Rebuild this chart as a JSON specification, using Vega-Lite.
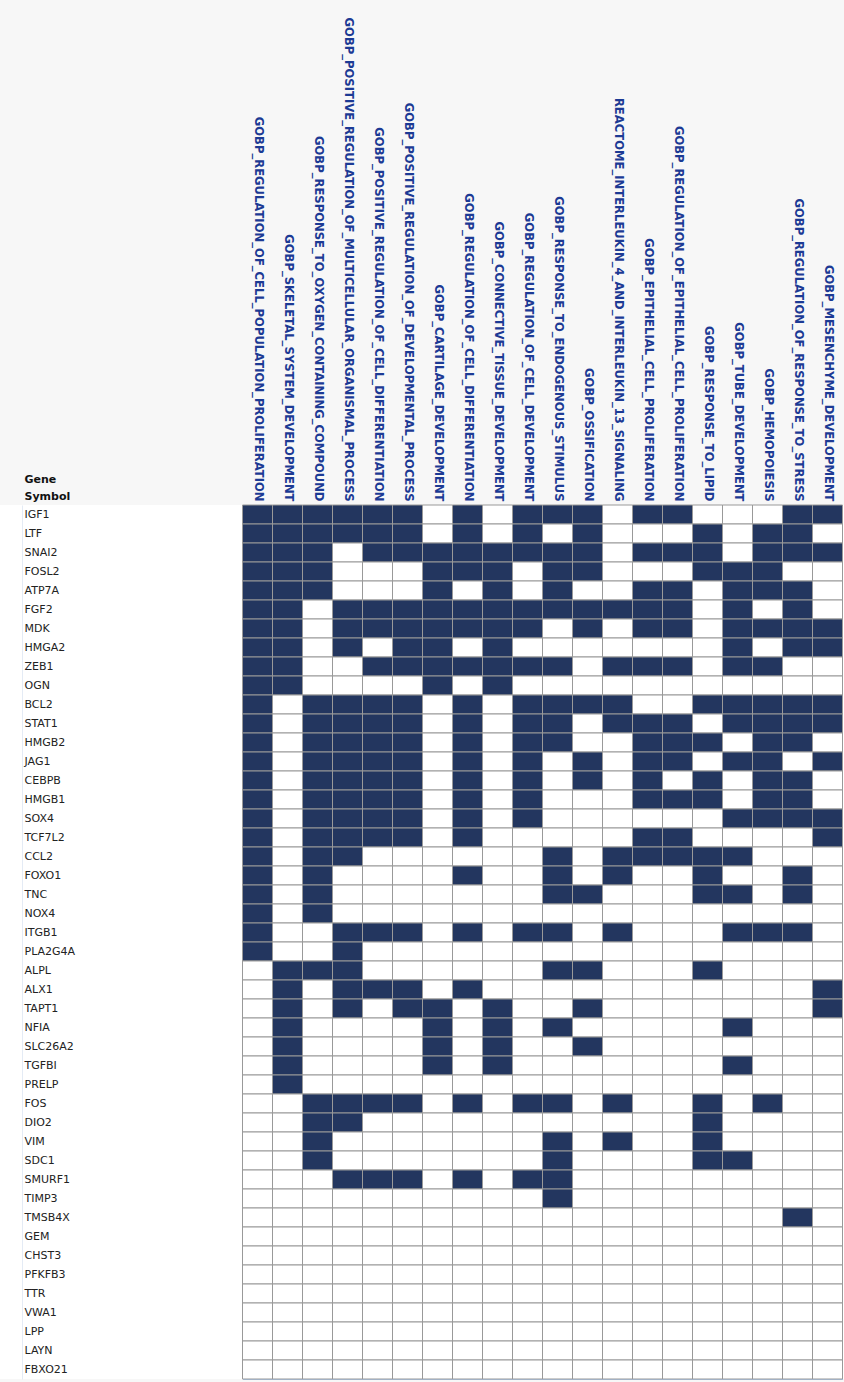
{
"$schema": "https://vega.github.io/schema/vega-lite/v6.json",
"width": 844,
"height": 874,
"autosize": "none",
"padding": {"left": 0, "top": 505, "right": 0, "bottom": 3},
"background": "#f7f7f7",
"view": {"fill": "white", "stroke": null},
"datasets": {
"sets": [
{"set":1,"name":"GOBP_REGULATION_OF_CELL_POPULATION_PROLIFERATION"},
{"set":2,"name":"GOBP_SKELETAL_SYSTEM_DEVELOPMENT"},
{"set":3,"name":"GOBP_RESPONSE_TO_OXYGEN_CONTAINING_COMPOUND"},
{"set":4,"name":"GOBP_POSITIVE_REGULATION_OF_MULTICELLULAR_ORGANISMAL_PROCESS"},
{"set":5,"name":"GOBP_POSITIVE_REGULATION_OF_CELL_DIFFERENTIATION"},
{"set":6,"name":"GOBP_POSITIVE_REGULATION_OF_DEVELOPMENTAL_PROCESS"},
{"set":7,"name":"GOBP_CARTILAGE_DEVELOPMENT"},
{"set":8,"name":"GOBP_REGULATION_OF_CELL_DIFFERENTIATION"},
{"set":9,"name":"GOBP_CONNECTIVE_TISSUE_DEVELOPMENT"},
{"set":10,"name":"GOBP_REGULATION_OF_CELL_DEVELOPMENT"},
{"set":11,"name":"GOBP_RESPONSE_TO_ENDOGENOUS_STIMULUS"},
{"set":12,"name":"GOBP_OSSIFICATION"},
{"set":13,"name":"REACTOME_INTERLEUKIN_4_AND_INTERLEUKIN_13_SIGNALING"},
{"set":14,"name":"GOBP_EPITHELIAL_CELL_PROLIFERATION"},
{"set":15,"name":"GOBP_REGULATION_OF_EPITHELIAL_CELL_PROLIFERATION"},
{"set":16,"name":"GOBP_RESPONSE_TO_LIPID"},
{"set":17,"name":"GOBP_TUBE_DEVELOPMENT"},
{"set":18,"name":"GOBP_HEMOPOIESIS"},
{"set":19,"name":"GOBP_REGULATION_OF_RESPONSE_TO_STRESS"},
{"set":20,"name":"GOBP_MESENCHYME_DEVELOPMENT"}
],
"cells": [
{"gene":"IGF1","set":1,"hit":1},{"gene":"IGF1","set":2,"hit":1},{"gene":"IGF1","set":3,"hit":1},{"gene":"IGF1","set":4,"hit":1},{"gene":"IGF1","set":5,"hit":1},{"gene":"IGF1","set":6,"hit":1},{"gene":"IGF1","set":7,"hit":0},{"gene":"IGF1","set":8,"hit":1},{"gene":"IGF1","set":9,"hit":0},{"gene":"IGF1","set":10,"hit":1},{"gene":"IGF1","set":11,"hit":1},{"gene":"IGF1","set":12,"hit":1},{"gene":"IGF1","set":13,"hit":0},{"gene":"IGF1","set":14,"hit":1},{"gene":"IGF1","set":15,"hit":1},{"gene":"IGF1","set":16,"hit":0},{"gene":"IGF1","set":17,"hit":0},{"gene":"IGF1","set":18,"hit":0},{"gene":"IGF1","set":19,"hit":1},{"gene":"IGF1","set":20,"hit":1},
{"gene":"LTF","set":1,"hit":1},{"gene":"LTF","set":2,"hit":1},{"gene":"LTF","set":3,"hit":1},{"gene":"LTF","set":4,"hit":1},{"gene":"LTF","set":5,"hit":1},{"gene":"LTF","set":6,"hit":1},{"gene":"LTF","set":7,"hit":0},{"gene":"LTF","set":8,"hit":1},{"gene":"LTF","set":9,"hit":0},{"gene":"LTF","set":10,"hit":1},{"gene":"LTF","set":11,"hit":0},{"gene":"LTF","set":12,"hit":1},{"gene":"LTF","set":13,"hit":0},{"gene":"LTF","set":14,"hit":0},{"gene":"LTF","set":15,"hit":0},{"gene":"LTF","set":16,"hit":1},{"gene":"LTF","set":17,"hit":0},{"gene":"LTF","set":18,"hit":1},{"gene":"LTF","set":19,"hit":1},{"gene":"LTF","set":20,"hit":0},
{"gene":"SNAI2","set":1,"hit":1},{"gene":"SNAI2","set":2,"hit":1},{"gene":"SNAI2","set":3,"hit":1},{"gene":"SNAI2","set":4,"hit":0},{"gene":"SNAI2","set":5,"hit":1},{"gene":"SNAI2","set":6,"hit":1},{"gene":"SNAI2","set":7,"hit":1},{"gene":"SNAI2","set":8,"hit":1},{"gene":"SNAI2","set":9,"hit":1},{"gene":"SNAI2","set":10,"hit":1},{"gene":"SNAI2","set":11,"hit":1},{"gene":"SNAI2","set":12,"hit":1},{"gene":"SNAI2","set":13,"hit":0},{"gene":"SNAI2","set":14,"hit":1},{"gene":"SNAI2","set":15,"hit":1},{"gene":"SNAI2","set":16,"hit":1},{"gene":"SNAI2","set":17,"hit":0},{"gene":"SNAI2","set":18,"hit":1},{"gene":"SNAI2","set":19,"hit":1},{"gene":"SNAI2","set":20,"hit":1},
{"gene":"FOSL2","set":1,"hit":1},{"gene":"FOSL2","set":2,"hit":1},{"gene":"FOSL2","set":3,"hit":1},{"gene":"FOSL2","set":4,"hit":0},{"gene":"FOSL2","set":5,"hit":0},{"gene":"FOSL2","set":6,"hit":0},{"gene":"FOSL2","set":7,"hit":1},{"gene":"FOSL2","set":8,"hit":1},{"gene":"FOSL2","set":9,"hit":1},{"gene":"FOSL2","set":10,"hit":0},{"gene":"FOSL2","set":11,"hit":1},{"gene":"FOSL2","set":12,"hit":1},{"gene":"FOSL2","set":13,"hit":0},{"gene":"FOSL2","set":14,"hit":0},{"gene":"FOSL2","set":15,"hit":0},{"gene":"FOSL2","set":16,"hit":1},{"gene":"FOSL2","set":17,"hit":1},{"gene":"FOSL2","set":18,"hit":1},{"gene":"FOSL2","set":19,"hit":0},{"gene":"FOSL2","set":20,"hit":0},
{"gene":"ATP7A","set":1,"hit":1},{"gene":"ATP7A","set":2,"hit":1},{"gene":"ATP7A","set":3,"hit":1},{"gene":"ATP7A","set":4,"hit":0},{"gene":"ATP7A","set":5,"hit":0},{"gene":"ATP7A","set":6,"hit":0},{"gene":"ATP7A","set":7,"hit":1},{"gene":"ATP7A","set":8,"hit":0},{"gene":"ATP7A","set":9,"hit":1},{"gene":"ATP7A","set":10,"hit":0},{"gene":"ATP7A","set":11,"hit":1},{"gene":"ATP7A","set":12,"hit":0},{"gene":"ATP7A","set":13,"hit":0},{"gene":"ATP7A","set":14,"hit":1},{"gene":"ATP7A","set":15,"hit":1},{"gene":"ATP7A","set":16,"hit":0},{"gene":"ATP7A","set":17,"hit":1},{"gene":"ATP7A","set":18,"hit":1},{"gene":"ATP7A","set":19,"hit":1},{"gene":"ATP7A","set":20,"hit":0},
{"gene":"FGF2","set":1,"hit":1},{"gene":"FGF2","set":2,"hit":1},{"gene":"FGF2","set":3,"hit":0},{"gene":"FGF2","set":4,"hit":1},{"gene":"FGF2","set":5,"hit":1},{"gene":"FGF2","set":6,"hit":1},{"gene":"FGF2","set":7,"hit":1},{"gene":"FGF2","set":8,"hit":1},{"gene":"FGF2","set":9,"hit":1},{"gene":"FGF2","set":10,"hit":1},{"gene":"FGF2","set":11,"hit":1},{"gene":"FGF2","set":12,"hit":1},{"gene":"FGF2","set":13,"hit":1},{"gene":"FGF2","set":14,"hit":1},{"gene":"FGF2","set":15,"hit":1},{"gene":"FGF2","set":16,"hit":0},{"gene":"FGF2","set":17,"hit":1},{"gene":"FGF2","set":18,"hit":0},{"gene":"FGF2","set":19,"hit":1},{"gene":"FGF2","set":20,"hit":0},
{"gene":"MDK","set":1,"hit":1},{"gene":"MDK","set":2,"hit":1},{"gene":"MDK","set":3,"hit":0},{"gene":"MDK","set":4,"hit":1},{"gene":"MDK","set":5,"hit":1},{"gene":"MDK","set":6,"hit":1},{"gene":"MDK","set":7,"hit":1},{"gene":"MDK","set":8,"hit":1},{"gene":"MDK","set":9,"hit":1},{"gene":"MDK","set":10,"hit":1},{"gene":"MDK","set":11,"hit":0},{"gene":"MDK","set":12,"hit":1},{"gene":"MDK","set":13,"hit":0},{"gene":"MDK","set":14,"hit":1},{"gene":"MDK","set":15,"hit":1},{"gene":"MDK","set":16,"hit":0},{"gene":"MDK","set":17,"hit":1},{"gene":"MDK","set":18,"hit":1},{"gene":"MDK","set":19,"hit":1},{"gene":"MDK","set":20,"hit":1},
{"gene":"HMGA2","set":1,"hit":1},{"gene":"HMGA2","set":2,"hit":1},{"gene":"HMGA2","set":3,"hit":0},{"gene":"HMGA2","set":4,"hit":1},{"gene":"HMGA2","set":5,"hit":0},{"gene":"HMGA2","set":6,"hit":1},{"gene":"HMGA2","set":7,"hit":1},{"gene":"HMGA2","set":8,"hit":0},{"gene":"HMGA2","set":9,"hit":1},{"gene":"HMGA2","set":10,"hit":0},{"gene":"HMGA2","set":11,"hit":0},{"gene":"HMGA2","set":12,"hit":0},{"gene":"HMGA2","set":13,"hit":0},{"gene":"HMGA2","set":14,"hit":0},{"gene":"HMGA2","set":15,"hit":0},{"gene":"HMGA2","set":16,"hit":0},{"gene":"HMGA2","set":17,"hit":1},{"gene":"HMGA2","set":18,"hit":0},{"gene":"HMGA2","set":19,"hit":1},{"gene":"HMGA2","set":20,"hit":1},
{"gene":"ZEB1","set":1,"hit":1},{"gene":"ZEB1","set":2,"hit":1},{"gene":"ZEB1","set":3,"hit":0},{"gene":"ZEB1","set":4,"hit":0},{"gene":"ZEB1","set":5,"hit":1},{"gene":"ZEB1","set":6,"hit":1},{"gene":"ZEB1","set":7,"hit":1},{"gene":"ZEB1","set":8,"hit":1},{"gene":"ZEB1","set":9,"hit":1},{"gene":"ZEB1","set":10,"hit":1},{"gene":"ZEB1","set":11,"hit":1},{"gene":"ZEB1","set":12,"hit":0},{"gene":"ZEB1","set":13,"hit":1},{"gene":"ZEB1","set":14,"hit":1},{"gene":"ZEB1","set":15,"hit":1},{"gene":"ZEB1","set":16,"hit":0},{"gene":"ZEB1","set":17,"hit":1},{"gene":"ZEB1","set":18,"hit":1},{"gene":"ZEB1","set":19,"hit":0},{"gene":"ZEB1","set":20,"hit":0},
{"gene":"OGN","set":1,"hit":1},{"gene":"OGN","set":2,"hit":1},{"gene":"OGN","set":3,"hit":0},{"gene":"OGN","set":4,"hit":0},{"gene":"OGN","set":5,"hit":0},{"gene":"OGN","set":6,"hit":0},{"gene":"OGN","set":7,"hit":1},{"gene":"OGN","set":8,"hit":0},{"gene":"OGN","set":9,"hit":1},{"gene":"OGN","set":10,"hit":0},{"gene":"OGN","set":11,"hit":0},{"gene":"OGN","set":12,"hit":0},{"gene":"OGN","set":13,"hit":0},{"gene":"OGN","set":14,"hit":0},{"gene":"OGN","set":15,"hit":0},{"gene":"OGN","set":16,"hit":0},{"gene":"OGN","set":17,"hit":0},{"gene":"OGN","set":18,"hit":0},{"gene":"OGN","set":19,"hit":0},{"gene":"OGN","set":20,"hit":0},
{"gene":"BCL2","set":1,"hit":1},{"gene":"BCL2","set":2,"hit":0},{"gene":"BCL2","set":3,"hit":1},{"gene":"BCL2","set":4,"hit":1},{"gene":"BCL2","set":5,"hit":1},{"gene":"BCL2","set":6,"hit":1},{"gene":"BCL2","set":7,"hit":0},{"gene":"BCL2","set":8,"hit":1},{"gene":"BCL2","set":9,"hit":0},{"gene":"BCL2","set":10,"hit":1},{"gene":"BCL2","set":11,"hit":1},{"gene":"BCL2","set":12,"hit":1},{"gene":"BCL2","set":13,"hit":1},{"gene":"BCL2","set":14,"hit":0},{"gene":"BCL2","set":15,"hit":0},{"gene":"BCL2","set":16,"hit":1},{"gene":"BCL2","set":17,"hit":1},{"gene":"BCL2","set":18,"hit":1},{"gene":"BCL2","set":19,"hit":1},{"gene":"BCL2","set":20,"hit":1},
{"gene":"STAT1","set":1,"hit":1},{"gene":"STAT1","set":2,"hit":0},{"gene":"STAT1","set":3,"hit":1},{"gene":"STAT1","set":4,"hit":1},{"gene":"STAT1","set":5,"hit":1},{"gene":"STAT1","set":6,"hit":1},{"gene":"STAT1","set":7,"hit":0},{"gene":"STAT1","set":8,"hit":1},{"gene":"STAT1","set":9,"hit":0},{"gene":"STAT1","set":10,"hit":1},{"gene":"STAT1","set":11,"hit":1},{"gene":"STAT1","set":12,"hit":0},{"gene":"STAT1","set":13,"hit":1},{"gene":"STAT1","set":14,"hit":1},{"gene":"STAT1","set":15,"hit":1},{"gene":"STAT1","set":16,"hit":0},{"gene":"STAT1","set":17,"hit":1},{"gene":"STAT1","set":18,"hit":1},{"gene":"STAT1","set":19,"hit":1},{"gene":"STAT1","set":20,"hit":1},
{"gene":"HMGB2","set":1,"hit":1},{"gene":"HMGB2","set":2,"hit":0},{"gene":"HMGB2","set":3,"hit":1},{"gene":"HMGB2","set":4,"hit":1},{"gene":"HMGB2","set":5,"hit":1},{"gene":"HMGB2","set":6,"hit":1},{"gene":"HMGB2","set":7,"hit":0},{"gene":"HMGB2","set":8,"hit":1},{"gene":"HMGB2","set":9,"hit":0},{"gene":"HMGB2","set":10,"hit":1},{"gene":"HMGB2","set":11,"hit":1},{"gene":"HMGB2","set":12,"hit":0},{"gene":"HMGB2","set":13,"hit":0},{"gene":"HMGB2","set":14,"hit":1},{"gene":"HMGB2","set":15,"hit":1},{"gene":"HMGB2","set":16,"hit":1},{"gene":"HMGB2","set":17,"hit":0},{"gene":"HMGB2","set":18,"hit":1},{"gene":"HMGB2","set":19,"hit":1},{"gene":"HMGB2","set":20,"hit":0},
{"gene":"JAG1","set":1,"hit":1},{"gene":"JAG1","set":2,"hit":0},{"gene":"JAG1","set":3,"hit":1},{"gene":"JAG1","set":4,"hit":1},{"gene":"JAG1","set":5,"hit":1},{"gene":"JAG1","set":6,"hit":1},{"gene":"JAG1","set":7,"hit":0},{"gene":"JAG1","set":8,"hit":1},{"gene":"JAG1","set":9,"hit":0},{"gene":"JAG1","set":10,"hit":1},{"gene":"JAG1","set":11,"hit":0},{"gene":"JAG1","set":12,"hit":1},{"gene":"JAG1","set":13,"hit":0},{"gene":"JAG1","set":14,"hit":1},{"gene":"JAG1","set":15,"hit":1},{"gene":"JAG1","set":16,"hit":0},{"gene":"JAG1","set":17,"hit":1},{"gene":"JAG1","set":18,"hit":1},{"gene":"JAG1","set":19,"hit":0},{"gene":"JAG1","set":20,"hit":1},
{"gene":"CEBPB","set":1,"hit":1},{"gene":"CEBPB","set":2,"hit":0},{"gene":"CEBPB","set":3,"hit":1},{"gene":"CEBPB","set":4,"hit":1},{"gene":"CEBPB","set":5,"hit":1},{"gene":"CEBPB","set":6,"hit":1},{"gene":"CEBPB","set":7,"hit":0},{"gene":"CEBPB","set":8,"hit":1},{"gene":"CEBPB","set":9,"hit":0},{"gene":"CEBPB","set":10,"hit":1},{"gene":"CEBPB","set":11,"hit":0},{"gene":"CEBPB","set":12,"hit":1},{"gene":"CEBPB","set":13,"hit":0},{"gene":"CEBPB","set":14,"hit":1},{"gene":"CEBPB","set":15,"hit":0},{"gene":"CEBPB","set":16,"hit":1},{"gene":"CEBPB","set":17,"hit":0},{"gene":"CEBPB","set":18,"hit":1},{"gene":"CEBPB","set":19,"hit":1},{"gene":"CEBPB","set":20,"hit":0},
{"gene":"HMGB1","set":1,"hit":1},{"gene":"HMGB1","set":2,"hit":0},{"gene":"HMGB1","set":3,"hit":1},{"gene":"HMGB1","set":4,"hit":1},{"gene":"HMGB1","set":5,"hit":1},{"gene":"HMGB1","set":6,"hit":1},{"gene":"HMGB1","set":7,"hit":0},{"gene":"HMGB1","set":8,"hit":1},{"gene":"HMGB1","set":9,"hit":0},{"gene":"HMGB1","set":10,"hit":1},{"gene":"HMGB1","set":11,"hit":0},{"gene":"HMGB1","set":12,"hit":0},{"gene":"HMGB1","set":13,"hit":0},{"gene":"HMGB1","set":14,"hit":1},{"gene":"HMGB1","set":15,"hit":1},{"gene":"HMGB1","set":16,"hit":1},{"gene":"HMGB1","set":17,"hit":0},{"gene":"HMGB1","set":18,"hit":1},{"gene":"HMGB1","set":19,"hit":1},{"gene":"HMGB1","set":20,"hit":0},
{"gene":"SOX4","set":1,"hit":1},{"gene":"SOX4","set":2,"hit":0},{"gene":"SOX4","set":3,"hit":1},{"gene":"SOX4","set":4,"hit":1},{"gene":"SOX4","set":5,"hit":1},{"gene":"SOX4","set":6,"hit":1},{"gene":"SOX4","set":7,"hit":0},{"gene":"SOX4","set":8,"hit":1},{"gene":"SOX4","set":9,"hit":0},{"gene":"SOX4","set":10,"hit":1},{"gene":"SOX4","set":11,"hit":0},{"gene":"SOX4","set":12,"hit":0},{"gene":"SOX4","set":13,"hit":0},{"gene":"SOX4","set":14,"hit":0},{"gene":"SOX4","set":15,"hit":0},{"gene":"SOX4","set":16,"hit":0},{"gene":"SOX4","set":17,"hit":1},{"gene":"SOX4","set":18,"hit":1},{"gene":"SOX4","set":19,"hit":1},{"gene":"SOX4","set":20,"hit":1},
{"gene":"TCF7L2","set":1,"hit":1},{"gene":"TCF7L2","set":2,"hit":0},{"gene":"TCF7L2","set":3,"hit":1},{"gene":"TCF7L2","set":4,"hit":1},{"gene":"TCF7L2","set":5,"hit":1},{"gene":"TCF7L2","set":6,"hit":1},{"gene":"TCF7L2","set":7,"hit":0},{"gene":"TCF7L2","set":8,"hit":1},{"gene":"TCF7L2","set":9,"hit":0},{"gene":"TCF7L2","set":10,"hit":0},{"gene":"TCF7L2","set":11,"hit":0},{"gene":"TCF7L2","set":12,"hit":0},{"gene":"TCF7L2","set":13,"hit":0},{"gene":"TCF7L2","set":14,"hit":1},{"gene":"TCF7L2","set":15,"hit":1},{"gene":"TCF7L2","set":16,"hit":0},{"gene":"TCF7L2","set":17,"hit":0},{"gene":"TCF7L2","set":18,"hit":0},{"gene":"TCF7L2","set":19,"hit":0},{"gene":"TCF7L2","set":20,"hit":1},
{"gene":"CCL2","set":1,"hit":1},{"gene":"CCL2","set":2,"hit":0},{"gene":"CCL2","set":3,"hit":1},{"gene":"CCL2","set":4,"hit":1},{"gene":"CCL2","set":5,"hit":0},{"gene":"CCL2","set":6,"hit":0},{"gene":"CCL2","set":7,"hit":0},{"gene":"CCL2","set":8,"hit":0},{"gene":"CCL2","set":9,"hit":0},{"gene":"CCL2","set":10,"hit":0},{"gene":"CCL2","set":11,"hit":1},{"gene":"CCL2","set":12,"hit":0},{"gene":"CCL2","set":13,"hit":1},{"gene":"CCL2","set":14,"hit":1},{"gene":"CCL2","set":15,"hit":1},{"gene":"CCL2","set":16,"hit":1},{"gene":"CCL2","set":17,"hit":1},{"gene":"CCL2","set":18,"hit":0},{"gene":"CCL2","set":19,"hit":0},{"gene":"CCL2","set":20,"hit":0},
{"gene":"FOXO1","set":1,"hit":1},{"gene":"FOXO1","set":2,"hit":0},{"gene":"FOXO1","set":3,"hit":1},{"gene":"FOXO1","set":4,"hit":0},{"gene":"FOXO1","set":5,"hit":0},{"gene":"FOXO1","set":6,"hit":0},{"gene":"FOXO1","set":7,"hit":0},{"gene":"FOXO1","set":8,"hit":1},{"gene":"FOXO1","set":9,"hit":0},{"gene":"FOXO1","set":10,"hit":0},{"gene":"FOXO1","set":11,"hit":1},{"gene":"FOXO1","set":12,"hit":0},{"gene":"FOXO1","set":13,"hit":1},{"gene":"FOXO1","set":14,"hit":0},{"gene":"FOXO1","set":15,"hit":0},{"gene":"FOXO1","set":16,"hit":1},{"gene":"FOXO1","set":17,"hit":0},{"gene":"FOXO1","set":18,"hit":0},{"gene":"FOXO1","set":19,"hit":1},{"gene":"FOXO1","set":20,"hit":0},
{"gene":"TNC","set":1,"hit":1},{"gene":"TNC","set":2,"hit":0},{"gene":"TNC","set":3,"hit":1},{"gene":"TNC","set":4,"hit":0},{"gene":"TNC","set":5,"hit":0},{"gene":"TNC","set":6,"hit":0},{"gene":"TNC","set":7,"hit":0},{"gene":"TNC","set":8,"hit":0},{"gene":"TNC","set":9,"hit":0},{"gene":"TNC","set":10,"hit":0},{"gene":"TNC","set":11,"hit":1},{"gene":"TNC","set":12,"hit":1},{"gene":"TNC","set":13,"hit":0},{"gene":"TNC","set":14,"hit":0},{"gene":"TNC","set":15,"hit":0},{"gene":"TNC","set":16,"hit":1},{"gene":"TNC","set":17,"hit":1},{"gene":"TNC","set":18,"hit":0},{"gene":"TNC","set":19,"hit":1},{"gene":"TNC","set":20,"hit":0},
{"gene":"NOX4","set":1,"hit":1},{"gene":"NOX4","set":2,"hit":0},{"gene":"NOX4","set":3,"hit":1},{"gene":"NOX4","set":4,"hit":0},{"gene":"NOX4","set":5,"hit":0},{"gene":"NOX4","set":6,"hit":0},{"gene":"NOX4","set":7,"hit":0},{"gene":"NOX4","set":8,"hit":0},{"gene":"NOX4","set":9,"hit":0},{"gene":"NOX4","set":10,"hit":0},{"gene":"NOX4","set":11,"hit":0},{"gene":"NOX4","set":12,"hit":0},{"gene":"NOX4","set":13,"hit":0},{"gene":"NOX4","set":14,"hit":0},{"gene":"NOX4","set":15,"hit":0},{"gene":"NOX4","set":16,"hit":0},{"gene":"NOX4","set":17,"hit":0},{"gene":"NOX4","set":18,"hit":0},{"gene":"NOX4","set":19,"hit":0},{"gene":"NOX4","set":20,"hit":0},
{"gene":"ITGB1","set":1,"hit":1},{"gene":"ITGB1","set":2,"hit":0},{"gene":"ITGB1","set":3,"hit":0},{"gene":"ITGB1","set":4,"hit":1},{"gene":"ITGB1","set":5,"hit":1},{"gene":"ITGB1","set":6,"hit":1},{"gene":"ITGB1","set":7,"hit":0},{"gene":"ITGB1","set":8,"hit":1},{"gene":"ITGB1","set":9,"hit":0},{"gene":"ITGB1","set":10,"hit":1},{"gene":"ITGB1","set":11,"hit":1},{"gene":"ITGB1","set":12,"hit":0},{"gene":"ITGB1","set":13,"hit":1},{"gene":"ITGB1","set":14,"hit":0},{"gene":"ITGB1","set":15,"hit":0},{"gene":"ITGB1","set":16,"hit":0},{"gene":"ITGB1","set":17,"hit":1},{"gene":"ITGB1","set":18,"hit":1},{"gene":"ITGB1","set":19,"hit":1},{"gene":"ITGB1","set":20,"hit":0},
{"gene":"PLA2G4A","set":1,"hit":1},{"gene":"PLA2G4A","set":2,"hit":0},{"gene":"PLA2G4A","set":3,"hit":0},{"gene":"PLA2G4A","set":4,"hit":1},{"gene":"PLA2G4A","set":5,"hit":0},{"gene":"PLA2G4A","set":6,"hit":0},{"gene":"PLA2G4A","set":7,"hit":0},{"gene":"PLA2G4A","set":8,"hit":0},{"gene":"PLA2G4A","set":9,"hit":0},{"gene":"PLA2G4A","set":10,"hit":0},{"gene":"PLA2G4A","set":11,"hit":0},{"gene":"PLA2G4A","set":12,"hit":0},{"gene":"PLA2G4A","set":13,"hit":0},{"gene":"PLA2G4A","set":14,"hit":0},{"gene":"PLA2G4A","set":15,"hit":0},{"gene":"PLA2G4A","set":16,"hit":0},{"gene":"PLA2G4A","set":17,"hit":0},{"gene":"PLA2G4A","set":18,"hit":0},{"gene":"PLA2G4A","set":19,"hit":0},{"gene":"PLA2G4A","set":20,"hit":0},
{"gene":"ALPL","set":1,"hit":0},{"gene":"ALPL","set":2,"hit":1},{"gene":"ALPL","set":3,"hit":1},{"gene":"ALPL","set":4,"hit":1},{"gene":"ALPL","set":5,"hit":0},{"gene":"ALPL","set":6,"hit":0},{"gene":"ALPL","set":7,"hit":0},{"gene":"ALPL","set":8,"hit":0},{"gene":"ALPL","set":9,"hit":0},{"gene":"ALPL","set":10,"hit":0},{"gene":"ALPL","set":11,"hit":1},{"gene":"ALPL","set":12,"hit":1},{"gene":"ALPL","set":13,"hit":0},{"gene":"ALPL","set":14,"hit":0},{"gene":"ALPL","set":15,"hit":0},{"gene":"ALPL","set":16,"hit":1},{"gene":"ALPL","set":17,"hit":0},{"gene":"ALPL","set":18,"hit":0},{"gene":"ALPL","set":19,"hit":0},{"gene":"ALPL","set":20,"hit":0},
{"gene":"ALX1","set":1,"hit":0},{"gene":"ALX1","set":2,"hit":1},{"gene":"ALX1","set":3,"hit":0},{"gene":"ALX1","set":4,"hit":1},{"gene":"ALX1","set":5,"hit":1},{"gene":"ALX1","set":6,"hit":1},{"gene":"ALX1","set":7,"hit":0},{"gene":"ALX1","set":8,"hit":1},{"gene":"ALX1","set":9,"hit":0},{"gene":"ALX1","set":10,"hit":0},{"gene":"ALX1","set":11,"hit":0},{"gene":"ALX1","set":12,"hit":0},{"gene":"ALX1","set":13,"hit":0},{"gene":"ALX1","set":14,"hit":0},{"gene":"ALX1","set":15,"hit":0},{"gene":"ALX1","set":16,"hit":0},{"gene":"ALX1","set":17,"hit":0},{"gene":"ALX1","set":18,"hit":0},{"gene":"ALX1","set":19,"hit":0},{"gene":"ALX1","set":20,"hit":1},
{"gene":"TAPT1","set":1,"hit":0},{"gene":"TAPT1","set":2,"hit":1},{"gene":"TAPT1","set":3,"hit":0},{"gene":"TAPT1","set":4,"hit":1},{"gene":"TAPT1","set":5,"hit":0},{"gene":"TAPT1","set":6,"hit":1},{"gene":"TAPT1","set":7,"hit":1},{"gene":"TAPT1","set":8,"hit":0},{"gene":"TAPT1","set":9,"hit":1},{"gene":"TAPT1","set":10,"hit":0},{"gene":"TAPT1","set":11,"hit":0},{"gene":"TAPT1","set":12,"hit":1},{"gene":"TAPT1","set":13,"hit":0},{"gene":"TAPT1","set":14,"hit":0},{"gene":"TAPT1","set":15,"hit":0},{"gene":"TAPT1","set":16,"hit":0},{"gene":"TAPT1","set":17,"hit":0},{"gene":"TAPT1","set":18,"hit":0},{"gene":"TAPT1","set":19,"hit":0},{"gene":"TAPT1","set":20,"hit":1},
{"gene":"NFIA","set":1,"hit":0},{"gene":"NFIA","set":2,"hit":1},{"gene":"NFIA","set":3,"hit":0},{"gene":"NFIA","set":4,"hit":0},{"gene":"NFIA","set":5,"hit":0},{"gene":"NFIA","set":6,"hit":0},{"gene":"NFIA","set":7,"hit":1},{"gene":"NFIA","set":8,"hit":0},{"gene":"NFIA","set":9,"hit":1},{"gene":"NFIA","set":10,"hit":0},{"gene":"NFIA","set":11,"hit":1},{"gene":"NFIA","set":12,"hit":0},{"gene":"NFIA","set":13,"hit":0},{"gene":"NFIA","set":14,"hit":0},{"gene":"NFIA","set":15,"hit":0},{"gene":"NFIA","set":16,"hit":0},{"gene":"NFIA","set":17,"hit":1},{"gene":"NFIA","set":18,"hit":0},{"gene":"NFIA","set":19,"hit":0},{"gene":"NFIA","set":20,"hit":0},
{"gene":"SLC26A2","set":1,"hit":0},{"gene":"SLC26A2","set":2,"hit":1},{"gene":"SLC26A2","set":3,"hit":0},{"gene":"SLC26A2","set":4,"hit":0},{"gene":"SLC26A2","set":5,"hit":0},{"gene":"SLC26A2","set":6,"hit":0},{"gene":"SLC26A2","set":7,"hit":1},{"gene":"SLC26A2","set":8,"hit":0},{"gene":"SLC26A2","set":9,"hit":1},{"gene":"SLC26A2","set":10,"hit":0},{"gene":"SLC26A2","set":11,"hit":0},{"gene":"SLC26A2","set":12,"hit":1},{"gene":"SLC26A2","set":13,"hit":0},{"gene":"SLC26A2","set":14,"hit":0},{"gene":"SLC26A2","set":15,"hit":0},{"gene":"SLC26A2","set":16,"hit":0},{"gene":"SLC26A2","set":17,"hit":0},{"gene":"SLC26A2","set":18,"hit":0},{"gene":"SLC26A2","set":19,"hit":0},{"gene":"SLC26A2","set":20,"hit":0},
{"gene":"TGFBI","set":1,"hit":0},{"gene":"TGFBI","set":2,"hit":1},{"gene":"TGFBI","set":3,"hit":0},{"gene":"TGFBI","set":4,"hit":0},{"gene":"TGFBI","set":5,"hit":0},{"gene":"TGFBI","set":6,"hit":0},{"gene":"TGFBI","set":7,"hit":1},{"gene":"TGFBI","set":8,"hit":0},{"gene":"TGFBI","set":9,"hit":1},{"gene":"TGFBI","set":10,"hit":0},{"gene":"TGFBI","set":11,"hit":0},{"gene":"TGFBI","set":12,"hit":0},{"gene":"TGFBI","set":13,"hit":0},{"gene":"TGFBI","set":14,"hit":0},{"gene":"TGFBI","set":15,"hit":0},{"gene":"TGFBI","set":16,"hit":0},{"gene":"TGFBI","set":17,"hit":1},{"gene":"TGFBI","set":18,"hit":0},{"gene":"TGFBI","set":19,"hit":0},{"gene":"TGFBI","set":20,"hit":0},
{"gene":"PRELP","set":1,"hit":0},{"gene":"PRELP","set":2,"hit":1},{"gene":"PRELP","set":3,"hit":0},{"gene":"PRELP","set":4,"hit":0},{"gene":"PRELP","set":5,"hit":0},{"gene":"PRELP","set":6,"hit":0},{"gene":"PRELP","set":7,"hit":0},{"gene":"PRELP","set":8,"hit":0},{"gene":"PRELP","set":9,"hit":0},{"gene":"PRELP","set":10,"hit":0},{"gene":"PRELP","set":11,"hit":0},{"gene":"PRELP","set":12,"hit":0},{"gene":"PRELP","set":13,"hit":0},{"gene":"PRELP","set":14,"hit":0},{"gene":"PRELP","set":15,"hit":0},{"gene":"PRELP","set":16,"hit":0},{"gene":"PRELP","set":17,"hit":0},{"gene":"PRELP","set":18,"hit":0},{"gene":"PRELP","set":19,"hit":0},{"gene":"PRELP","set":20,"hit":0},
{"gene":"FOS","set":1,"hit":0},{"gene":"FOS","set":2,"hit":0},{"gene":"FOS","set":3,"hit":1},{"gene":"FOS","set":4,"hit":1},{"gene":"FOS","set":5,"hit":1},{"gene":"FOS","set":6,"hit":1},{"gene":"FOS","set":7,"hit":0},{"gene":"FOS","set":8,"hit":1},{"gene":"FOS","set":9,"hit":0},{"gene":"FOS","set":10,"hit":1},{"gene":"FOS","set":11,"hit":1},{"gene":"FOS","set":12,"hit":0},{"gene":"FOS","set":13,"hit":1},{"gene":"FOS","set":14,"hit":0},{"gene":"FOS","set":15,"hit":0},{"gene":"FOS","set":16,"hit":1},{"gene":"FOS","set":17,"hit":0},{"gene":"FOS","set":18,"hit":1},{"gene":"FOS","set":19,"hit":0},{"gene":"FOS","set":20,"hit":0},
{"gene":"DIO2","set":1,"hit":0},{"gene":"DIO2","set":2,"hit":0},{"gene":"DIO2","set":3,"hit":1},{"gene":"DIO2","set":4,"hit":1},{"gene":"DIO2","set":5,"hit":0},{"gene":"DIO2","set":6,"hit":0},{"gene":"DIO2","set":7,"hit":0},{"gene":"DIO2","set":8,"hit":0},{"gene":"DIO2","set":9,"hit":0},{"gene":"DIO2","set":10,"hit":0},{"gene":"DIO2","set":11,"hit":0},{"gene":"DIO2","set":12,"hit":0},{"gene":"DIO2","set":13,"hit":0},{"gene":"DIO2","set":14,"hit":0},{"gene":"DIO2","set":15,"hit":0},{"gene":"DIO2","set":16,"hit":1},{"gene":"DIO2","set":17,"hit":0},{"gene":"DIO2","set":18,"hit":0},{"gene":"DIO2","set":19,"hit":0},{"gene":"DIO2","set":20,"hit":0},
{"gene":"VIM","set":1,"hit":0},{"gene":"VIM","set":2,"hit":0},{"gene":"VIM","set":3,"hit":1},{"gene":"VIM","set":4,"hit":0},{"gene":"VIM","set":5,"hit":0},{"gene":"VIM","set":6,"hit":0},{"gene":"VIM","set":7,"hit":0},{"gene":"VIM","set":8,"hit":0},{"gene":"VIM","set":9,"hit":0},{"gene":"VIM","set":10,"hit":0},{"gene":"VIM","set":11,"hit":1},{"gene":"VIM","set":12,"hit":0},{"gene":"VIM","set":13,"hit":1},{"gene":"VIM","set":14,"hit":0},{"gene":"VIM","set":15,"hit":0},{"gene":"VIM","set":16,"hit":1},{"gene":"VIM","set":17,"hit":0},{"gene":"VIM","set":18,"hit":0},{"gene":"VIM","set":19,"hit":0},{"gene":"VIM","set":20,"hit":0},
{"gene":"SDC1","set":1,"hit":0},{"gene":"SDC1","set":2,"hit":0},{"gene":"SDC1","set":3,"hit":1},{"gene":"SDC1","set":4,"hit":0},{"gene":"SDC1","set":5,"hit":0},{"gene":"SDC1","set":6,"hit":0},{"gene":"SDC1","set":7,"hit":0},{"gene":"SDC1","set":8,"hit":0},{"gene":"SDC1","set":9,"hit":0},{"gene":"SDC1","set":10,"hit":0},{"gene":"SDC1","set":11,"hit":1},{"gene":"SDC1","set":12,"hit":0},{"gene":"SDC1","set":13,"hit":0},{"gene":"SDC1","set":14,"hit":0},{"gene":"SDC1","set":15,"hit":0},{"gene":"SDC1","set":16,"hit":1},{"gene":"SDC1","set":17,"hit":1},{"gene":"SDC1","set":18,"hit":0},{"gene":"SDC1","set":19,"hit":0},{"gene":"SDC1","set":20,"hit":0},
{"gene":"SMURF1","set":1,"hit":0},{"gene":"SMURF1","set":2,"hit":0},{"gene":"SMURF1","set":3,"hit":0},{"gene":"SMURF1","set":4,"hit":1},{"gene":"SMURF1","set":5,"hit":1},{"gene":"SMURF1","set":6,"hit":1},{"gene":"SMURF1","set":7,"hit":0},{"gene":"SMURF1","set":8,"hit":1},{"gene":"SMURF1","set":9,"hit":0},{"gene":"SMURF1","set":10,"hit":1},{"gene":"SMURF1","set":11,"hit":1},{"gene":"SMURF1","set":12,"hit":0},{"gene":"SMURF1","set":13,"hit":0},{"gene":"SMURF1","set":14,"hit":0},{"gene":"SMURF1","set":15,"hit":0},{"gene":"SMURF1","set":16,"hit":0},{"gene":"SMURF1","set":17,"hit":0},{"gene":"SMURF1","set":18,"hit":0},{"gene":"SMURF1","set":19,"hit":0},{"gene":"SMURF1","set":20,"hit":0},
{"gene":"TIMP3","set":1,"hit":0},{"gene":"TIMP3","set":2,"hit":0},{"gene":"TIMP3","set":3,"hit":0},{"gene":"TIMP3","set":4,"hit":0},{"gene":"TIMP3","set":5,"hit":0},{"gene":"TIMP3","set":6,"hit":0},{"gene":"TIMP3","set":7,"hit":0},{"gene":"TIMP3","set":8,"hit":0},{"gene":"TIMP3","set":9,"hit":0},{"gene":"TIMP3","set":10,"hit":0},{"gene":"TIMP3","set":11,"hit":1},{"gene":"TIMP3","set":12,"hit":0},{"gene":"TIMP3","set":13,"hit":0},{"gene":"TIMP3","set":14,"hit":0},{"gene":"TIMP3","set":15,"hit":0},{"gene":"TIMP3","set":16,"hit":0},{"gene":"TIMP3","set":17,"hit":0},{"gene":"TIMP3","set":18,"hit":0},{"gene":"TIMP3","set":19,"hit":0},{"gene":"TIMP3","set":20,"hit":0},
{"gene":"TMSB4X","set":1,"hit":0},{"gene":"TMSB4X","set":2,"hit":0},{"gene":"TMSB4X","set":3,"hit":0},{"gene":"TMSB4X","set":4,"hit":0},{"gene":"TMSB4X","set":5,"hit":0},{"gene":"TMSB4X","set":6,"hit":0},{"gene":"TMSB4X","set":7,"hit":0},{"gene":"TMSB4X","set":8,"hit":0},{"gene":"TMSB4X","set":9,"hit":0},{"gene":"TMSB4X","set":10,"hit":0},{"gene":"TMSB4X","set":11,"hit":0},{"gene":"TMSB4X","set":12,"hit":0},{"gene":"TMSB4X","set":13,"hit":0},{"gene":"TMSB4X","set":14,"hit":0},{"gene":"TMSB4X","set":15,"hit":0},{"gene":"TMSB4X","set":16,"hit":0},{"gene":"TMSB4X","set":17,"hit":0},{"gene":"TMSB4X","set":18,"hit":0},{"gene":"TMSB4X","set":19,"hit":1},{"gene":"TMSB4X","set":20,"hit":0},
{"gene":"GEM","set":1,"hit":0},{"gene":"GEM","set":2,"hit":0},{"gene":"GEM","set":3,"hit":0},{"gene":"GEM","set":4,"hit":0},{"gene":"GEM","set":5,"hit":0},{"gene":"GEM","set":6,"hit":0},{"gene":"GEM","set":7,"hit":0},{"gene":"GEM","set":8,"hit":0},{"gene":"GEM","set":9,"hit":0},{"gene":"GEM","set":10,"hit":0},{"gene":"GEM","set":11,"hit":0},{"gene":"GEM","set":12,"hit":0},{"gene":"GEM","set":13,"hit":0},{"gene":"GEM","set":14,"hit":0},{"gene":"GEM","set":15,"hit":0},{"gene":"GEM","set":16,"hit":0},{"gene":"GEM","set":17,"hit":0},{"gene":"GEM","set":18,"hit":0},{"gene":"GEM","set":19,"hit":0},{"gene":"GEM","set":20,"hit":0},
{"gene":"CHST3","set":1,"hit":0},{"gene":"CHST3","set":2,"hit":0},{"gene":"CHST3","set":3,"hit":0},{"gene":"CHST3","set":4,"hit":0},{"gene":"CHST3","set":5,"hit":0},{"gene":"CHST3","set":6,"hit":0},{"gene":"CHST3","set":7,"hit":0},{"gene":"CHST3","set":8,"hit":0},{"gene":"CHST3","set":9,"hit":0},{"gene":"CHST3","set":10,"hit":0},{"gene":"CHST3","set":11,"hit":0},{"gene":"CHST3","set":12,"hit":0},{"gene":"CHST3","set":13,"hit":0},{"gene":"CHST3","set":14,"hit":0},{"gene":"CHST3","set":15,"hit":0},{"gene":"CHST3","set":16,"hit":0},{"gene":"CHST3","set":17,"hit":0},{"gene":"CHST3","set":18,"hit":0},{"gene":"CHST3","set":19,"hit":0},{"gene":"CHST3","set":20,"hit":0},
{"gene":"PFKFB3","set":1,"hit":0},{"gene":"PFKFB3","set":2,"hit":0},{"gene":"PFKFB3","set":3,"hit":0},{"gene":"PFKFB3","set":4,"hit":0},{"gene":"PFKFB3","set":5,"hit":0},{"gene":"PFKFB3","set":6,"hit":0},{"gene":"PFKFB3","set":7,"hit":0},{"gene":"PFKFB3","set":8,"hit":0},{"gene":"PFKFB3","set":9,"hit":0},{"gene":"PFKFB3","set":10,"hit":0},{"gene":"PFKFB3","set":11,"hit":0},{"gene":"PFKFB3","set":12,"hit":0},{"gene":"PFKFB3","set":13,"hit":0},{"gene":"PFKFB3","set":14,"hit":0},{"gene":"PFKFB3","set":15,"hit":0},{"gene":"PFKFB3","set":16,"hit":0},{"gene":"PFKFB3","set":17,"hit":0},{"gene":"PFKFB3","set":18,"hit":0},{"gene":"PFKFB3","set":19,"hit":0},{"gene":"PFKFB3","set":20,"hit":0},
{"gene":"TTR","set":1,"hit":0},{"gene":"TTR","set":2,"hit":0},{"gene":"TTR","set":3,"hit":0},{"gene":"TTR","set":4,"hit":0},{"gene":"TTR","set":5,"hit":0},{"gene":"TTR","set":6,"hit":0},{"gene":"TTR","set":7,"hit":0},{"gene":"TTR","set":8,"hit":0},{"gene":"TTR","set":9,"hit":0},{"gene":"TTR","set":10,"hit":0},{"gene":"TTR","set":11,"hit":0},{"gene":"TTR","set":12,"hit":0},{"gene":"TTR","set":13,"hit":0},{"gene":"TTR","set":14,"hit":0},{"gene":"TTR","set":15,"hit":0},{"gene":"TTR","set":16,"hit":0},{"gene":"TTR","set":17,"hit":0},{"gene":"TTR","set":18,"hit":0},{"gene":"TTR","set":19,"hit":0},{"gene":"TTR","set":20,"hit":0},
{"gene":"VWA1","set":1,"hit":0},{"gene":"VWA1","set":2,"hit":0},{"gene":"VWA1","set":3,"hit":0},{"gene":"VWA1","set":4,"hit":0},{"gene":"VWA1","set":5,"hit":0},{"gene":"VWA1","set":6,"hit":0},{"gene":"VWA1","set":7,"hit":0},{"gene":"VWA1","set":8,"hit":0},{"gene":"VWA1","set":9,"hit":0},{"gene":"VWA1","set":10,"hit":0},{"gene":"VWA1","set":11,"hit":0},{"gene":"VWA1","set":12,"hit":0},{"gene":"VWA1","set":13,"hit":0},{"gene":"VWA1","set":14,"hit":0},{"gene":"VWA1","set":15,"hit":0},{"gene":"VWA1","set":16,"hit":0},{"gene":"VWA1","set":17,"hit":0},{"gene":"VWA1","set":18,"hit":0},{"gene":"VWA1","set":19,"hit":0},{"gene":"VWA1","set":20,"hit":0},
{"gene":"LPP","set":1,"hit":0},{"gene":"LPP","set":2,"hit":0},{"gene":"LPP","set":3,"hit":0},{"gene":"LPP","set":4,"hit":0},{"gene":"LPP","set":5,"hit":0},{"gene":"LPP","set":6,"hit":0},{"gene":"LPP","set":7,"hit":0},{"gene":"LPP","set":8,"hit":0},{"gene":"LPP","set":9,"hit":0},{"gene":"LPP","set":10,"hit":0},{"gene":"LPP","set":11,"hit":0},{"gene":"LPP","set":12,"hit":0},{"gene":"LPP","set":13,"hit":0},{"gene":"LPP","set":14,"hit":0},{"gene":"LPP","set":15,"hit":0},{"gene":"LPP","set":16,"hit":0},{"gene":"LPP","set":17,"hit":0},{"gene":"LPP","set":18,"hit":0},{"gene":"LPP","set":19,"hit":0},{"gene":"LPP","set":20,"hit":0},
{"gene":"LAYN","set":1,"hit":0},{"gene":"LAYN","set":2,"hit":0},{"gene":"LAYN","set":3,"hit":0},{"gene":"LAYN","set":4,"hit":0},{"gene":"LAYN","set":5,"hit":0},{"gene":"LAYN","set":6,"hit":0},{"gene":"LAYN","set":7,"hit":0},{"gene":"LAYN","set":8,"hit":0},{"gene":"LAYN","set":9,"hit":0},{"gene":"LAYN","set":10,"hit":0},{"gene":"LAYN","set":11,"hit":0},{"gene":"LAYN","set":12,"hit":0},{"gene":"LAYN","set":13,"hit":0},{"gene":"LAYN","set":14,"hit":0},{"gene":"LAYN","set":15,"hit":0},{"gene":"LAYN","set":16,"hit":0},{"gene":"LAYN","set":17,"hit":0},{"gene":"LAYN","set":18,"hit":0},{"gene":"LAYN","set":19,"hit":0},{"gene":"LAYN","set":20,"hit":0},
{"gene":"FBXO21","set":1,"hit":0},{"gene":"FBXO21","set":2,"hit":0},{"gene":"FBXO21","set":3,"hit":0},{"gene":"FBXO21","set":4,"hit":0},{"gene":"FBXO21","set":5,"hit":0},{"gene":"FBXO21","set":6,"hit":0},{"gene":"FBXO21","set":7,"hit":0},{"gene":"FBXO21","set":8,"hit":0},{"gene":"FBXO21","set":9,"hit":0},{"gene":"FBXO21","set":10,"hit":0},{"gene":"FBXO21","set":11,"hit":0},{"gene":"FBXO21","set":12,"hit":0},{"gene":"FBXO21","set":13,"hit":0},{"gene":"FBXO21","set":14,"hit":0},{"gene":"FBXO21","set":15,"hit":0},{"gene":"FBXO21","set":16,"hit":0},{"gene":"FBXO21","set":17,"hit":0},{"gene":"FBXO21","set":18,"hit":0},{"gene":"FBXO21","set":19,"hit":0},{"gene":"FBXO21","set":20,"hit":0}
]
},
"data": {"name": "cells"},
"transform": [
{"lookup": "set", "from": {"data": {"name": "sets"}, "key": "set", "fields": ["name"]}}
],
"mark": {"type": "rect", "stroke": "#999999", "strokeWidth": 1},
"encoding": {
"x": {"field": "name", "type": "nominal", "sort": null,
 "scale": {"range": [242.5, 842.5], "paddingInner": 0, "paddingOuter": 0, "round": false},
 "axis": {"orient": "top", "title": null, "domain": false, "ticks": false, "labelAngle": 90, "labelAlign": "right", "labelBaseline": "middle", "labelPadding": 4, "labelFont": "DejaVu Sans", "labelFontWeight": "bold", "labelFontSize": 11.6, "labelColor": "#1c3a94", "labelLimit": 1000, "labelOverlap": false}},
"y": {"field": "gene", "type": "nominal", "sort": null,
 "scale": {"paddingInner": 0, "paddingOuter": 0, "round": false},
 "axis": {"orient": "left", "offset": -22, "domainColor": "#e4ebf5", "ticks": false, "grid": true, "gridColor": "#a9c6ec", "gridOpacity": 1, "tickBand": "extent", "zindex": 0, "labelAlign": "left", "labelPadding": -2, "labelFont": "DejaVu Sans", "labelFontSize": 11, "labelColor": "#222222", "labelBaseline": "middle", "title": ["Gene", "Symbol"], "titleAngle": 0, "titleAlign": "left", "titleBaseline": "bottom", "titleX": 2, "titleY": -21, "titleFont": "DejaVu Sans", "titleFontSize": 11, "titleFontWeight": "bold", "titleColor": "#111111", "titleLineHeight": 17}},
"color": {"field": "hit", "type": "nominal", "scale": {"domain": [0, 1], "range": ["#ffffff", "#23365f"]}, "legend": null}
}
}
